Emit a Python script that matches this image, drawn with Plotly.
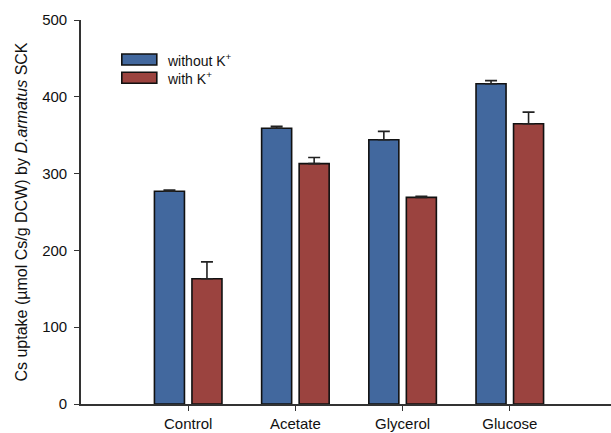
import plotly.graph_objects as go

# Carbon sources tested and their axis positions
categories = ["Control", "Acetate", "Glycerol", "Glucose"]
positions = [1, 2, 3, 4]

# Cs uptake (µmol Cs / g DCW) and standard deviations
without_k = [277, 359, 344, 417]
without_k_err = [1.5, 2.5, 11, 4]
with_k = [163, 313, 269, 365]
with_k_err = [22, 8, 1.5, 15]

series_names = ["without K<sup>+</sup>", "with K<sup>+</sup>"]
blue = "rgb(66,104,158)"
red = "rgb(155,67,63)"
ink = "#222222"
font_family = "Liberation Sans, Arial, sans-serif"

fig = go.Figure()
for name, vals, errs, color in [
    (series_names[0], without_k, without_k_err, blue),
    (series_names[1], with_k, with_k_err, red),
]:
    fig.add_trace(go.Bar(
        x=positions, y=vals, name=name,
        marker=dict(color=color, line=dict(color="#111111", width=1.6)),
        error_y=dict(type="data", symmetric=False, array=errs,
                     arrayminus=[0] * len(errs), color=ink,
                     thickness=1.6, width=6),
        showlegend=False,
    ))

# Legend drawn as wide swatches with labels, upper left of the plot
legend_rows = [(0.8971, blue, series_names[0]), (0.8495, red, series_names[1])]
for yc, color, label in legend_rows:
    fig.add_shape(type="rect", xref="paper", yref="paper",
                  x0=0.077, x1=0.143, y0=yc - 0.0143, y1=yc + 0.0143,
                  fillcolor=color, line=dict(color="#111111", width=1.6))
    fig.add_annotation(xref="paper", yref="paper", x=0.158, y=yc,
                       text=label, showarrow=False, xanchor="left",
                       yanchor="middle",
                       font=dict(family=font_family, size=14, color="#111111"))

fig.update_layout(
    width=611, height=433,
    margin=dict(l=81, r=0, t=20, b=29),
    paper_bgcolor="white", plot_bgcolor="white",
    barmode="group", bargap=0.30, bargroupgap=0.2,
    font=dict(family=font_family, size=15, color="#111111"),
)
fig.update_xaxes(
    range=[0, 4.944], tickvals=positions, ticktext=categories,
    showline=True, linecolor="#333333", linewidth=1.6,
    ticks="outside", ticklen=5, tickcolor="#333333", tickwidth=1.4,
    showgrid=False, zeroline=False,
    tickfont=dict(size=15),
)
fig.update_yaxes(
    range=[0, 500], tickvals=[0, 100, 200, 300, 400, 500],
    showline=True, linecolor="#333333", linewidth=1.6,
    ticks="outside", ticklen=5, tickcolor="#333333", tickwidth=1.4,
    showgrid=False, zeroline=False,
    tickfont=dict(size=15), ticklabelstandoff=4,
    title=dict(text="Cs uptake (µmol Cs/g DCW) by <i>D.armatus</i> SCK",
               font=dict(size=16), standoff=11),
)

fig.write_html("out.html")
